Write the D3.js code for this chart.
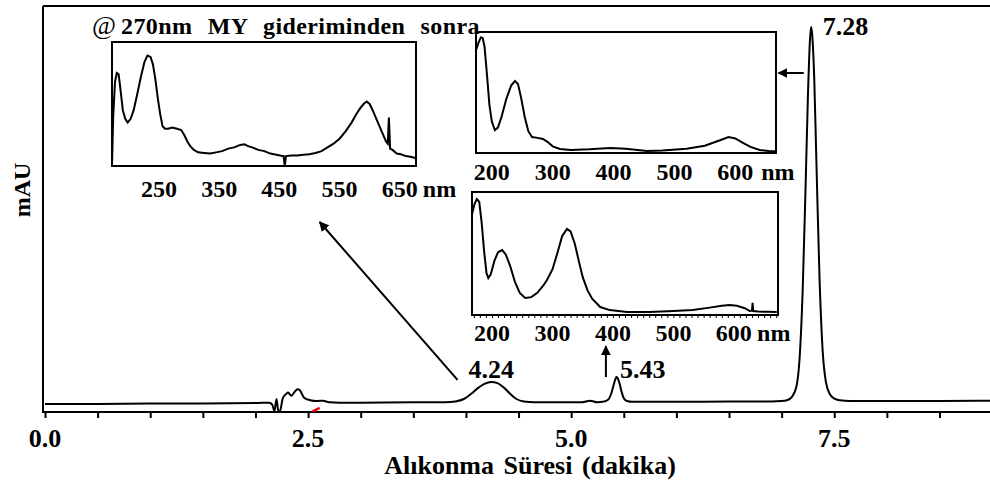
<!DOCTYPE html>
<html>
<head>
<meta charset="utf-8">
<script src="https://cdn.jsdelivr.net/npm/d3@7"></script>
<style>
  body { margin: 0; background: #fff; }
  text { font-family: "Liberation Serif", "Times New Roman", serif; font-weight: bold; fill: #000; }
</style>
</head>
<body>
<svg id="chart" width="990" height="480"></svg>
<script>
// chromatogram (retention time in min, signal in arbitrary mAU units)
var retTime = [0.00, 0.50, 1.00, 1.50, 2.00, 2.13, 2.16, 2.18, 2.20, 2.215, 2.23, 2.26, 2.29, 2.31, 2.34, 2.37, 2.40, 2.42, 2.46, 2.52, 2.58, 2.64, 2.70, 2.80, 3.00, 3.50, 3.80, 3.90, 3.98, 4.05, 4.12, 4.18, 4.24, 4.30, 4.36, 4.42, 4.48, 4.55, 4.65, 4.90, 5.10, 5.18, 5.25, 5.30, 5.35, 5.38, 5.40, 5.42, 5.43, 5.44, 5.46, 5.48, 5.50, 5.53, 5.58, 6.00, 6.50, 6.90, 7.00, 7.05, 7.10, 7.14, 7.17, 7.20, 7.23, 7.25, 7.27, 7.28, 7.29, 7.31, 7.33, 7.36, 7.39, 7.42, 7.46, 7.50, 7.55, 7.65, 8.00, 8.50, 8.98];
var signal = [2.0, 2.0, 2.1, 2.1, 2.2, 2.3, 1.8, 0.2, 3.2, 0.5, 0.0, 3.4, 4.4, 4.8, 4.0, 4.9, 5.6, 5.4, 3.6, 2.9, 2.7, 2.8, 2.4, 2.3, 2.3, 2.4, 2.4, 2.6, 3.2, 4.5, 6.0, 7.0, 7.4, 7.1, 6.0, 4.5, 3.2, 2.6, 2.4, 2.4, 2.4, 2.8, 2.4, 2.5, 3.0, 4.5, 6.3, 8.1, 8.6, 8.4, 7.0, 4.9, 3.4, 2.7, 2.5, 2.5, 2.6, 2.6, 2.7, 2.9, 3.8, 6.2, 13, 30, 58, 78, 92, 94.8, 93, 82, 62, 33, 15, 7.5, 4.3, 3.3, 2.9, 2.7, 2.7, 2.7, 2.8];

var timeTicks = [0, 2.5, 5.0, 7.5];
var peakLabels = ["4.24", "5.43", "7.28"];

// UV spectra (wavelength nm, relative absorbance)
var spec1Nm = [172, 174, 177, 180, 183, 186, 190, 194, 198, 203, 208, 214, 220, 226, 231, 236, 240, 244, 248, 252, 256, 260, 265, 272, 280, 287, 292, 297, 302, 308, 315, 325, 335, 345, 355, 365, 375, 385, 392, 398, 405, 415, 425, 435, 445, 455, 457, 459, 461, 470, 480, 490, 500, 510, 520, 530, 540, 550, 560, 570, 578, 585, 590, 595, 600, 605, 612, 620, 627, 630, 632, 634, 638, 645, 652, 660, 668, 676];
var spec1Abs = [0, 40, 68, 75, 74, 62, 45, 38, 35, 38, 45, 58, 72, 84, 89, 88, 82, 70, 55, 42, 32, 30, 30, 31, 30, 29, 25, 20, 16, 13, 11, 10.5, 10, 11, 12, 14, 15, 17, 17.5, 16, 15, 13, 12, 10, 9, 8, 8, 0, 8, 8.5, 8.5, 9, 9.5, 10.5, 12, 15, 18, 22, 28, 35, 42, 47, 50, 52, 50, 45, 37, 28, 20, 18, 39, 14, 13, 10, 9.5, 8, 7.5, 6.5];
var spec1Ticks = [250, 350, 450, 550, 650];

var spec2Nm = [174, 178, 182, 185, 188, 192, 196, 200, 205, 210, 216, 224, 232, 238, 243, 248, 254, 260, 266, 275, 284, 292, 300, 312, 330, 360, 395, 420, 455, 480, 520, 550, 575, 589, 600, 612, 625, 640, 655, 667];
var spec2Abs = [85, 91, 95.5, 95, 88, 65, 40, 26, 19, 21, 30, 45, 56, 59.5, 57, 46, 30, 18, 13.2, 12.5, 11.6, 9, 5.5, 3.3, 2.5, 3.0, 4.1, 3.5, 1.7, 2.0, 3.5, 6, 10.5, 13.2, 12, 8.5, 5, 2.5, 1.7, 1.5];
var spec2Ticks = [200, 300, 400, 500, 600];

var spec3Nm = [167, 171, 175, 179, 183, 187, 191, 194, 198, 204, 210, 217, 223, 230, 238, 246, 255, 265, 275, 285, 291, 300, 308, 316, 324, 330, 337, 344, 350, 358, 366, 379, 395, 423, 460, 500, 532, 560, 580, 593, 605, 618, 626, 630, 631, 632, 640, 655, 671];
var spec3Abs = [82, 90, 94.3, 92, 75, 52, 34, 30, 33, 44, 51, 52.8, 49, 40, 27, 18, 13.8, 14.5, 18, 24, 28.5, 37, 50, 64, 70, 68, 58, 43, 31, 20, 13, 6.5, 4, 2.4, 2.5, 3.2, 4, 6, 7.5, 8.1, 7.5, 5.5, 3.3, 3.5, 9.8, 3.2, 2.8, 2.6, 2.4];
var spec3Ticks = [200, 300, 400, 500, 600];

var svg = d3.select("#chart");

var x = d3.scaleLinear().domain([0, 8.98]).range([45, 990]);
var y = d3.scaleLinear().domain([0, 100]).range([412, 6]);

svg.append("defs").append("marker")
  .attr("id", "head")
  .attr("viewBox", "0 0 10 10")
  .attr("refX", 9).attr("refY", 5)
  .attr("markerWidth", 5).attr("markerHeight", 5)
  .attr("orient", "auto")
  .append("path")
  .attr("d", "M0,0L10,5L0,10z")
  .attr("fill", "#000");

// frame
svg.append("line").attr("x1", 43).attr("x2", 990).attr("y1", 6).attr("y2", 6)
  .attr("stroke", "#000").attr("stroke-width", 2);
svg.append("line").attr("x1", 43).attr("x2", 43).attr("y1", 6).attr("y2", 413)
  .attr("stroke", "#000").attr("stroke-width", 2);

// x axis
var xAxis = svg.append("g")
  .attr("transform", "translate(0," + y(0) + ")")
  .call(d3.axisBottom(x).tickValues(d3.range(0, 9, 0.5)).tickSize(6).tickFormat(""));
xAxis.select(".domain").remove();
xAxis.selectAll(".tick line").attr("stroke-width", 2);
xAxis.append("line").attr("x1", 43).attr("x2", 990).attr("stroke", "#000").attr("stroke-width", 2);

svg.append("g").selectAll("text")
  .data(timeTicks)
  .enter().append("text")
  .attr("x", function (d) { return x(d); })
  .attr("y", 447)
  .attr("text-anchor", "middle")
  .style("font-size", "26px")
  .text(function (d) { return d3.format(".1f")(d); });

svg.append("text")
  .attr("x", 530).attr("y", 474)
  .attr("text-anchor", "middle")
  .style("font-size", "26px")
  .style("word-spacing", "3px")
  .text("Alıkonma Süresi (dakika)");

svg.append("text")
  .attr("transform", "translate(30,190) rotate(-90)")
  .attr("text-anchor", "middle")
  .style("font-size", "24px")
  .text("mAU");

// chromatogram
var line = d3.line()
  .x(function (d) { return x(d[0]); })
  .y(function (d) { return y(d[1]); })
  .curve(d3.curveMonotoneX);

svg.append("path")
  .datum(d3.zip(retTime, signal))
  .attr("d", line)
  .attr("fill", "none")
  .attr("stroke", "#000")
  .attr("stroke-width", 2);

// small red mark under the baseline
svg.append("line")
  .attr("x1", x(2.54)).attr("y1", y(0.1))
  .attr("x2", x(2.61)).attr("y2", y(1.0))
  .attr("stroke", "#e00").attr("stroke-width", 2.5);

// peak labels
var labelPos = [[4.24, 8.4, "middle"], [5.465, 8.4, "start"], [7.39, 92.9, "start"]];
svg.append("g").selectAll("text")
  .data(peakLabels)
  .enter().append("text")
  .attr("x", function (d, i) { return x(labelPos[i][0]); })
  .attr("y", function (d, i) { return y(labelPos[i][1]); })
  .attr("text-anchor", function (d, i) { return labelPos[i][2]; })
  .style("font-size", "26px")
  .text(function (d) { return d; });

// arrows
function arrow(t1, v1, t2, v2) {
  svg.append("line")
    .attr("x1", x(t1)).attr("y1", y(v1))
    .attr("x2", x(t2)).attr("y2", y(v2))
    .attr("stroke", "#000").attr("stroke-width", 2)
    .attr("marker-end", "url(#head)");
}
arrow(3.92, 7.9, 2.61, 46.8);
arrow(5.33, 8.6, 5.33, 16.2);
arrow(7.21, 83.5, 6.97, 83.5);

// inset spectra
function inset(box, domain, nm, abs, ticks, nmPos, minor) {
  var sx = d3.scaleLinear().domain(domain).range([box.x0, box.x1]);
  var sy = d3.scaleLinear().domain([0, 100]).range([box.y1, box.y0]);
  var g = svg.append("g");

  g.append("rect")
    .attr("x", box.x0).attr("y", box.y0)
    .attr("width", box.x1 - box.x0).attr("height", box.y1 - box.y0)
    .attr("fill", "#fff").attr("stroke", "#000").attr("stroke-width", 2);

  if (minor) {
    var ax = g.append("g")
      .attr("transform", "translate(0," + box.y1 + ")")
      .call(d3.axisBottom(sx).tickValues(d3.range(170, 671, 10)).tickSize(3).tickFormat(""));
    ax.select(".domain").remove();
  }

  g.append("path")
    .datum(d3.zip(nm, abs))
    .attr("d", d3.line()
      .x(function (d) { return sx(d[0]); })
      .y(function (d) { return sy(d[1]); }))
    .attr("fill", "none")
    .attr("stroke", "#000")
    .attr("stroke-width", 2);

  g.selectAll("text.tk")
    .data(ticks)
    .enter().append("text")
    .attr("class", "tk")
    .attr("x", function (d) { return sx(d); })
    .attr("y", box.y1 + box.lab)
    .attr("text-anchor", "middle")
    .style("font-size", "24px")
    .text(function (d) { return d; });

  g.append("text")
    .attr("x", sx(nmPos))
    .attr("y", box.y1 + box.lab)
    .attr("text-anchor", "middle")
    .style("font-size", "24px")
    .text("nm");
}

inset({ x0: 112, x1: 416, y0: 42, y1: 166, lab: 31 }, [172, 677], spec1Nm, spec1Abs, spec1Ticks, 716, false);
inset({ x0: 476, x1: 776, y0: 32, y1: 153, lab: 27 }, [174, 667], spec2Nm, spec2Abs, spec2Ticks, 670, false);
inset({ x0: 472, x1: 778, y0: 192, y1: 315, lab: 26 }, [167, 673], spec3Nm, spec3Abs, spec3Ticks, 666, true);

svg.append("text")
  .attr("x", 92).attr("y", 34)
  .style("font-size", "26px")
  .style("font-weight", "normal")
  .text("@");
svg.append("text")
  .attr("x", 121).attr("y", 34)
  .style("font-size", "24px")
  .style("letter-spacing", "0.4px")
  .style("word-spacing", "9px")
  .text("270nm MY gideriminden  sonra");
</script>
</body>
</html>
